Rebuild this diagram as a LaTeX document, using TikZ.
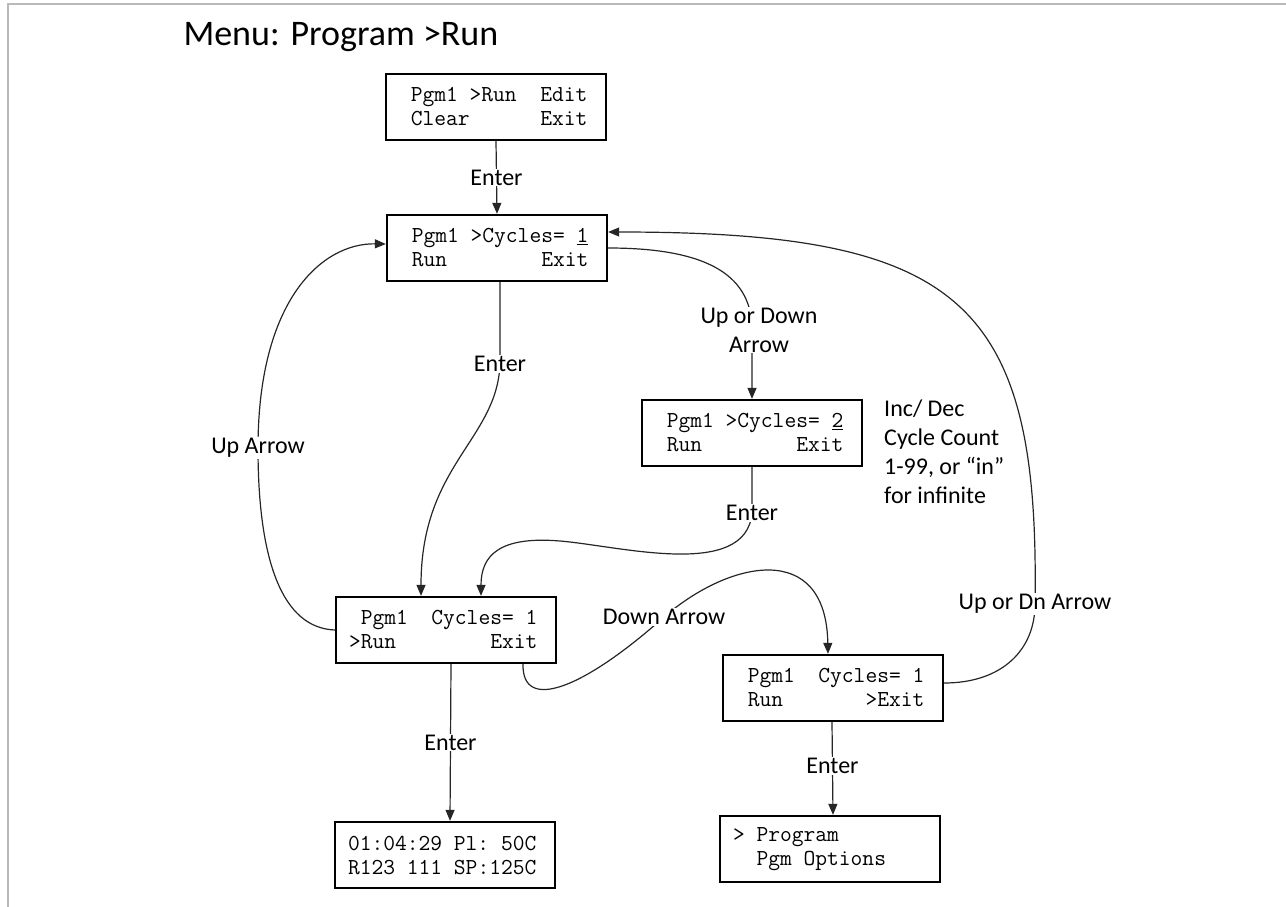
\documentclass[tikz,border=0pt]{standalone}
\usepackage{fontspec}
\setmainfont{Carlito}
\usetikzlibrary{arrows.meta,calc}
% one blank character cell of the typewriter font
\newcommand\blk[1]{\phantom{#1}}
\newcommand\sq{\phantom{X}}
\tikzset{
  lcd/.style={draw=black, line width=2.3pt, fill=white, minimum width=220pt,
    minimum height=66pt, inner xsep=13pt, inner ysep=0pt, text width=194pt,
    align=left, font=\fontsize{22.86}{24}\selectfont\ttfamily},
  flow/.style={draw=black!85, line width=1.2pt, -{Triangle[length=11pt,width=9pt]}},
  lab/.style={fill=white, inner sep=1pt, font=\fontsize{24}{29}\selectfont, align=center},
  frame/.style={draw=black!27, line width=2pt},
}
\begin{document}
\begin{tikzpicture}[x=1pt,y=-1pt]
\useasboundingbox (0,0) rectangle (1286,907);
% page frame
\draw[frame] (8,907) -- (8,4) -- (1286,4);

% title
\node[font=\fontsize{36}{40}\selectfont, anchor=west] (title) at (180,37) {Menu: Program >Run};

% display screens
\node[lcd] (menu) at (496,107) {\sq Pgm1\sq>Run\blk{XX}Edit\\\sq Clear\blk{XXXXXX}Exit};
\node[lcd] (cyc1) at (497,248) {\sq Pgm1\sq>Cycles=\sq\underline{1}\\\sq Run\blk{XXXXXXXX}Exit};
\node[lcd] (cyc2) at (752,433) {\sq Pgm1\sq>Cycles=\sq\underline{2}\\\sq Run\blk{XXXXXXXX}Exit};
\node[lcd] (run) at (446,630) {\sq Pgm1\blk{XX}Cycles=\sq 1\\>Run\blk{XXXXXXXX}Exit};
\node[lcd] (exit) at (833,688) {\sq Pgm1\blk{XX}Cycles=\sq 1\\\sq Run\blk{XXXXXXX}>Exit};
\node[lcd] (disp) at (445,855) {01:04:29\sq Pl:\sq 50C\\R123\sq 111\sq SP:125C};
\node[lcd] (prog) at (830,849) {>\sq Program\\\blk{XX}Pgm\sq Options};

% side note
\node[anchor=west, inner sep=0pt, align=left, font=\fontsize{24}{29}\selectfont] (note) at (884,452)
  {Inc/ Dec\\Cycle Count\\1-99, or “in”\\for infinite};

% transitions
\draw[flow] (menu.south) -- node[lab]{Enter} (cyc1.north);

\draw[flow] ($(cyc1.south)+(3,0)$) .. controls (500,320) .. (500,364) node[lab]{Enter}
  .. controls (497,440) and (421,465) .. ($(run.north)+(-25,0)$);

\draw[flow] (cyc1.east) .. controls (712,248) and (752,278) .. (752,330)
  node[lab, xshift=7pt]{Up or Down\\Arrow} -- (cyc2.north);

\draw[flow] (cyc2.south) -- (752,513) node[lab]{Enter}
  .. controls (746,580) and (620,546) .. (560,541)
  .. controls (500,536) and (481,555) .. ($(run.north)+(35,0)$);

\draw[flow] ($(run.south)+(77,0)$) .. controls (522,712) and (582,690) .. (664,617)
  node[lab]{Down Arrow}
  .. controls (730,560) and (826,540) .. ($(exit.north)+(-5,0)$);

\draw[flow] ($(exit.east)+(0,-5)$) .. controls (1002,683) and (1035,650) .. (1035,604)
  node[lab]{Up or Dn Arrow}
  .. controls (1040,300) and (960,232) .. ($(cyc1.east)+(0,-16)$);

\draw[flow] (run.west) .. controls (282,628) and (258,560) .. (258,448)
  node[lab]{Up Arrow}
  .. controls (258,300) and (322,243) .. ($(cyc1.west)+(0,-4)$);

\draw[flow] ($(run.south)+(5,0)$) -- node[lab]{Enter} ($(disp.north)+(5,0)$);
\draw[flow] ($(exit.south)+(-1,0)$) -- node[lab, pos=0.47]{Enter} ($(prog.north)+(3,0)$);
\end{tikzpicture}
\end{document}
